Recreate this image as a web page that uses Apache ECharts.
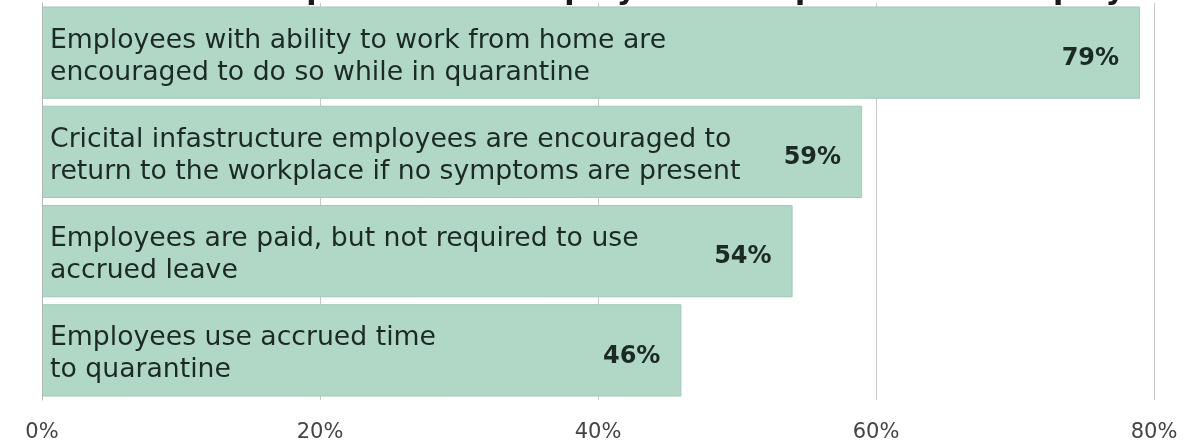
<!DOCTYPE html>
<html>
<head>
<meta charset="utf-8">
<script src="https://cdn.jsdelivr.net/npm/echarts@6/dist/echarts.min.js"></script>
<style>
  html, body { margin: 0; padding: 0; background: #ffffff; }
  #chart { width: 1191px; height: 443px; }
</style>
</head>
<body>
<div id="chart"></div>
<script>
// Responses, top to bottom
const categories = [
  'Employees with ability to work from home are\nencouraged to do so while in quarantine',
  'Cricital infastructure employees are encouraged to\nreturn to the workplace if no symptoms are present',
  'Employees are paid, but not required to use\naccrued leave',
  'Employees use accrued time\nto quarantine'
];
const shares = [79, 59, 54, 46];
const axisTicks = [0, 20, 40, 60, 80];
const titleText = 'What is current practice for employers with quarantined employees?';

const FONT = '"DejaVu Sans", "Open Sans", sans-serif';
const INK = '#1c2a26';
const chart = echarts.init(document.getElementById('chart'), null, { renderer: 'canvas' });

chart.setOption({
  backgroundColor: '#ffffff',
  animation: false,
  title: {
    text: titleText,
    left: 28,
    top: -29,
    textStyle: { fontFamily: FONT, fontSize: 30, fontWeight: 'bold', color: '#1a1a1a' }
  },
  grid: { left: 42, right: 37, top: 3, bottom: 42, containLabel: false },
  xAxis: {
    type: 'value',
    min: axisTicks[0],
    max: axisTicks[axisTicks.length - 1],
    interval: 20,
    axisLine: { show: false },
    axisTick: { show: false },
    splitLine: { show: true, lineStyle: { color: '#c8c8c8', width: 1 } },
    axisLabel: {
      formatter: v => v + '%',
      fontFamily: FONT,
      fontSize: 21,
      color: '#444444',
      margin: 22
    }
  },
  yAxis: {
    type: 'category',
    data: categories,
    inverse: true,
    z: 10,
    axisLine: { show: true, lineStyle: { color: '#b0b8b4', width: 1 } },
    axisTick: { show: false },
    axisLabel: { show: false }
  },
  series: [{
    // bars with the percentage at the right end
    type: 'bar',
    data: shares,
    barCategoryGap: '7%',
    itemStyle: { color: '#b1d7c7', borderColor: '#a0c9b9', borderWidth: 1 },
    label: {
      show: true,
      position: 'insideRight',
      distance: 21,
      offset: [0, 6],
      formatter: p => p.value + '%',
      fontFamily: FONT,
      fontSize: 24,
      fontWeight: 'bold',
      color: INK
    }
  }, {
    // same bars, transparent, carrying the response text at the left end
    type: 'bar',
    data: shares,
    barGap: '-100%',
    barCategoryGap: '7%',
    silent: true,
    itemStyle: { color: 'rgba(0,0,0,0)' },
    label: {
      show: true,
      position: 'insideLeft',
      distance: 8,
      offset: [0, 4],
      formatter: p => p.name,
      fontFamily: FONT,
      fontSize: 26.7,
      lineHeight: 32,
      color: INK
    }
  }]
});
</script>
</body>
</html>
